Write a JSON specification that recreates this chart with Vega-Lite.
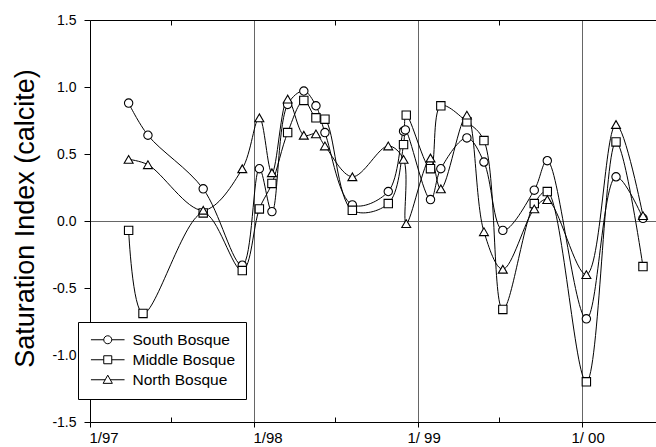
{
  "$schema": "https://vega.github.io/schema/vega-lite/v6.json",
  "autosize": "none",
  "width": 566,
  "height": 402,
  "padding": {"left": 90, "top": 20, "right": 0, "bottom": 25},
  "background": "white",
  "config": {
    "view": {"stroke": null},
    "font": "Liberation Sans",
    "axis": {"domainColor": "black", "tickColor": "black", "labelColor": "black", "titleColor": "black", "labelFont": "Liberation Sans", "titleFont": "Liberation Sans"}
  },
  "data": {"values": [
    {"date": "1997-03-28", "site": "South Bosque", "si": 0.88},
    {"date": "1997-05-10", "site": "South Bosque", "si": 0.64},
    {"date": "1997-09-10", "site": "South Bosque", "si": 0.24},
    {"date": "1997-12-06", "site": "South Bosque", "si": -0.33},
    {"date": "1998-01-13", "site": "South Bosque", "si": 0.39},
    {"date": "1998-02-10", "site": "South Bosque", "si": 0.07},
    {"date": "1998-03-17", "site": "South Bosque", "si": 0.87},
    {"date": "1998-04-22", "site": "South Bosque", "si": 0.97},
    {"date": "1998-05-19", "site": "South Bosque", "si": 0.86},
    {"date": "1998-06-08", "site": "South Bosque", "si": 0.66},
    {"date": "1998-08-08", "site": "South Bosque", "si": 0.12},
    {"date": "1998-10-27", "site": "South Bosque", "si": 0.22},
    {"date": "1998-11-30", "site": "South Bosque", "si": 0.67},
    {"date": "1998-12-04", "site": "South Bosque", "si": 0.68},
    {"date": "1999-01-29", "site": "South Bosque", "si": 0.16},
    {"date": "1999-02-21", "site": "South Bosque", "si": 0.39},
    {"date": "1999-04-20", "site": "South Bosque", "si": 0.62},
    {"date": "1999-05-28", "site": "South Bosque", "si": 0.44},
    {"date": "1999-07-09", "site": "South Bosque", "si": -0.07},
    {"date": "1999-09-17", "site": "South Bosque", "si": 0.23},
    {"date": "1999-10-16", "site": "South Bosque", "si": 0.45},
    {"date": "2000-01-11", "site": "South Bosque", "si": -0.73},
    {"date": "2000-03-17", "site": "South Bosque", "si": 0.33},
    {"date": "2000-05-16", "site": "South Bosque", "si": 0.02},

    {"date": "1997-03-28", "site": "Middle Bosque", "si": -0.07},
    {"date": "1997-04-29", "site": "Middle Bosque", "si": -0.69},
    {"date": "1997-09-10", "site": "Middle Bosque", "si": 0.06},
    {"date": "1997-12-06", "site": "Middle Bosque", "si": -0.37},
    {"date": "1998-01-13", "site": "Middle Bosque", "si": 0.09},
    {"date": "1998-02-10", "site": "Middle Bosque", "si": 0.28},
    {"date": "1998-03-17", "site": "Middle Bosque", "si": 0.66},
    {"date": "1998-04-22", "site": "Middle Bosque", "si": 0.90},
    {"date": "1998-05-19", "site": "Middle Bosque", "si": 0.77},
    {"date": "1998-06-08", "site": "Middle Bosque", "si": 0.76},
    {"date": "1998-08-08", "site": "Middle Bosque", "si": 0.08},
    {"date": "1998-10-27", "site": "Middle Bosque", "si": 0.13},
    {"date": "1998-11-30", "site": "Middle Bosque", "si": 0.57},
    {"date": "1998-12-06", "site": "Middle Bosque", "si": 0.79},
    {"date": "1999-01-29", "site": "Middle Bosque", "si": 0.39},
    {"date": "1999-02-21", "site": "Middle Bosque", "si": 0.86},
    {"date": "1999-04-20", "site": "Middle Bosque", "si": 0.74},
    {"date": "1999-05-28", "site": "Middle Bosque", "si": 0.60},
    {"date": "1999-07-09", "site": "Middle Bosque", "si": -0.66},
    {"date": "1999-09-17", "site": "Middle Bosque", "si": 0.13},
    {"date": "1999-10-16", "site": "Middle Bosque", "si": 0.22},
    {"date": "2000-01-11", "site": "Middle Bosque", "si": -1.20},
    {"date": "2000-03-17", "site": "Middle Bosque", "si": 0.59},
    {"date": "2000-05-16", "site": "Middle Bosque", "si": -0.34},

    {"date": "1997-03-28", "site": "North Bosque", "si": 0.46},
    {"date": "1997-05-10", "site": "North Bosque", "si": 0.42},
    {"date": "1997-09-10", "site": "North Bosque", "si": 0.08},
    {"date": "1997-12-06", "site": "North Bosque", "si": 0.39},
    {"date": "1998-01-13", "site": "North Bosque", "si": 0.77},
    {"date": "1998-02-10", "site": "North Bosque", "si": 0.36},
    {"date": "1998-03-17", "site": "North Bosque", "si": 0.91},
    {"date": "1998-04-22", "site": "North Bosque", "si": 0.64},
    {"date": "1998-05-19", "site": "North Bosque", "si": 0.65},
    {"date": "1998-06-08", "site": "North Bosque", "si": 0.56},
    {"date": "1998-08-08", "site": "North Bosque", "si": 0.33},
    {"date": "1998-10-27", "site": "North Bosque", "si": 0.56},
    {"date": "1998-11-30", "site": "North Bosque", "si": 0.46},
    {"date": "1998-12-06", "site": "North Bosque", "si": -0.02},
    {"date": "1999-01-29", "site": "North Bosque", "si": 0.47},
    {"date": "1999-02-21", "site": "North Bosque", "si": 0.24},
    {"date": "1999-04-20", "site": "North Bosque", "si": 0.79},
    {"date": "1999-05-28", "site": "North Bosque", "si": -0.08},
    {"date": "1999-07-09", "site": "North Bosque", "si": -0.36},
    {"date": "1999-09-17", "site": "North Bosque", "si": 0.09},
    {"date": "1999-10-16", "site": "North Bosque", "si": 0.16},
    {"date": "2000-01-11", "site": "North Bosque", "si": -0.40},
    {"date": "2000-03-17", "site": "North Bosque", "si": 0.72},
    {"date": "2000-05-16", "site": "North Bosque", "si": 0.04}
  ]},
  "encoding": {
    "y": {
      "field": "si", "type": "quantitative",
      "scale": {"domain": [-1.5, 1.5], "nice": false, "zero": false},
      "axis": {
        "orient": "left",
        "title": "Saturation Index (calcite)",
        "titleFontSize": 27, "titleFontWeight": "normal",
        "titleAngle": 270, "titleX": -57, "titleY": 198, "titleAlign": "center", "titleBaseline": "alphabetic",
        "values": [-1.5, -1, -0.5, 0, 0.5, 1, 1.5],
        "labelExpr": "datum.value < 0 ? '-' + format(-datum.value, '.1f') : format(datum.value, '.1f')",
        "labelFontSize": 14, "labelPadding": 8, "tickSize": 6,
        "domainWidth": 1, "tickWidth": 1,
        "grid": true, "gridColor": "#666", "gridWidth": 1,
        "gridOpacity": {"condition": {"test": "datum.value == 0", "value": 1}, "value": 0}
      }
    }
  },
  "layer": [
    {
      "mark": {"type": "line", "interpolate": "catmull-rom", "color": "black", "strokeWidth": 1},
      "encoding": {
        "x": {
          "field": "date", "type": "temporal",
          "scale": {"domain": [{"year": 1997, "month": 1, "date": 1}, {"year": 2000, "month": 6, "date": 14}], "nice": false},
          "axis": {
            "orient": "bottom", "title": null,
            "values": [
              {"year": 1997, "month": 1, "date": 1},
              {"year": 1998, "month": 1, "date": 1},
              {"year": 1999, "month": 1, "date": 1},
              {"year": 2000, "month": 1, "date": 1}
            ],
            "labelExpr": "year(datum.value) == 1997 ? '1/97' : year(datum.value) == 1998 ? '1/98' : year(datum.value) == 1999 ? '1/ 99' : '1/ 00'",
            "labelAlign": "left", "labelBaseline": "top", "labelFontSize": 15, "labelPadding": 3,
            "labelFlush": false, "labelOverlap": false, "labelBound": false,
            "labelOffset": {"condition": {"test": "year(datum.value) >= 1999", "value": -11}, "value": -1},
            "tickSize": 5,
            "grid": true, "gridColor": "#666", "gridWidth": 1
          }
        },
        "detail": {"field": "site"}
      }
    },
    {
      "transform": [{"filter": "datum.site == 'South Bosque'"}],
      "mark": {"type": "point", "shape": "circle", "filled": true, "fill": "white", "stroke": "black", "strokeWidth": 1.1, "size": 70, "opacity": 1},
      "encoding": {
        "x": {
          "field": "date", "type": "temporal",
          "axis": {"orient": "top", "title": null, "labels": false, "grid": false, "ticks": false, "domain": true}
        }
      }
    },
    {
      "transform": [{"filter": "datum.site == 'Middle Bosque'"}],
      "mark": {"type": "point", "shape": "square", "filled": true, "fill": "white", "stroke": "black", "strokeWidth": 1.1, "size": 70, "opacity": 1},
      "encoding": {
        "x": {
          "field": "date", "type": "temporal",
          "axis": {
            "orient": "top", "offset": -5, "title": null, "labels": false, "grid": false, "domain": false,
            "values": [{"year": 1997, "month": 7, "date": 1}, {"year": 1998, "month": 7, "date": 1}, {"year": 1999, "month": 7, "date": 1}],
            "tickSize": 5, "tickWidth": 1
          }
        }
      }
    },
    {
      "transform": [{"filter": "datum.site == 'North Bosque'"}],
      "mark": {"type": "point", "shape": "triangle-up", "filled": true, "fill": "white", "stroke": "black", "strokeWidth": 1.1, "size": 80, "opacity": 1},
      "encoding": {
        "x": {
          "field": "date", "type": "temporal",
          "axis": {
            "orient": "bottom", "offset": -5, "title": null, "labels": false, "grid": false, "domain": false,
            "values": [{"year": 1997, "month": 7, "date": 1}, {"year": 1998, "month": 7, "date": 1}, {"year": 1999, "month": 7, "date": 1}],
            "tickSize": 5, "tickWidth": 1
          }
        }
      }
    },
    {
      "mark": {"type": "point", "filled": false, "color": "black", "stroke": "black", "strokeWidth": 1, "size": 70, "opacity": 0},
      "encoding": {
        "x": {"field": "date", "type": "temporal", "axis": null},
        "shape": {
          "field": "site", "type": "nominal",
          "scale": {"domain": ["South Bosque", "Middle Bosque", "North Bosque"],
            "range": [
              "M-4.2,0H-1M1,0H4.2M-1,0A1,1 0 1,1 1,0A1,1 0 1,1 -1,0Z",
              "M-4.2,0H-1M1,0H4.2M-1,-1H1V1H-1Z",
              "M-4.2,0H-0.6M0.6,0H4.2M0,-1.15L1.15,0.9H-1.15Z"
            ]},
          "legend": {
            "title": null, "orient": "none", "legendX": -12, "legendY": 302,
            "strokeColor": "black", "fillColor": "white", "padding": 10,
            "labelFontSize": 15.5, "labelFont": "Liberation Sans", "labelColor": "black",
            "symbolSize": 64, "symbolStrokeColor": "black", "symbolFillColor": "white", "symbolStrokeWidth": 1, "symbolOpacity": 1,
            "symbolOffset": 12, "labelOffset": 17, "rowPadding": 3
          }
        }
      }
    }
  ],
  "resolve": {"axis": {"x": "independent"}}
}
